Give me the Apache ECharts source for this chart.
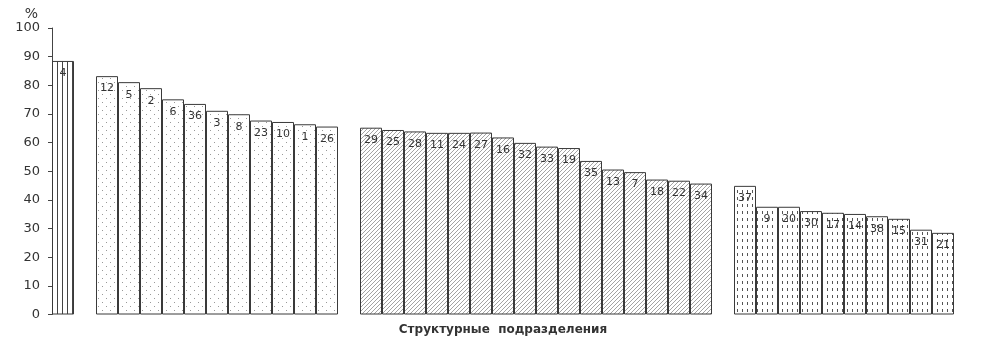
<!DOCTYPE html>
<html>
<head>
<meta charset="utf-8">
<script src="https://cdn.jsdelivr.net/npm/echarts@6/dist/echarts.min.js"></script>
<style>html,body{margin:0;padding:0;background:#fff}#c{width:988px;height:352px}</style>
</head>
<body>
<div id="c"></div>
<script>
// Data
var g1Labels = ['4'];
var g1Values = [88.5];
var g2Labels = ['12','5','2','6','36','3','8','23','10','1','26'];
var g2Values = [83.2, 81.1, 79.0, 75.1, 73.5, 71.1, 69.9, 67.7, 67.2, 66.4, 65.6];
var g3Labels = ['29','25','28','11','24','27','16','32','33','19','35','13','7','18','22','34'];
var g3Values = [65.2, 64.4, 63.9, 63.4, 63.4, 63.5, 61.8, 59.9, 58.6, 58.1, 53.6, 50.6, 49.7, 47.1, 46.7, 45.7];
var g4Labels = ['37','9','20','30','17','14','38','15','31','21'];
var g4Values = [44.9, 37.6, 37.6, 36.1, 35.5, 35.1, 34.3, 33.4, 29.6, 28.5];
var yTicks = [0,10,20,30,40,50,60,70,80,90,100];
var yName = '%';
var xName = 'Структурные  подразделения';

var groups = [[g1Labels,g1Values],[g2Labels,g2Values],[g3Labels,g3Values],[g4Labels,g4Values]];
var total = 0;
groups.forEach(function(g,i){ total += g[1].length + (i>0?1:0); });
var cats = [];
for (var k=0;k<total;k++) cats.push('s'+k);

function makePattern(w,h,draw){
  var c=document.createElement('canvas'); c.width=w; c.height=h;
  var ctx=c.getContext('2d'); ctx.fillStyle='#fff'; ctx.fillRect(0,0,w,h);
  draw(ctx); return {image:c, repeat:'repeat'};
}
var patterns = [
  makePattern(5,10,function(ctx){ ctx.fillStyle='#444'; ctx.fillRect(2,0,1,10); }),
  makePattern(8,8,function(ctx){ ctx.fillStyle='#999'; ctx.fillRect(2,2,1,1); ctx.fillRect(6,6,1,1); }),
  makePattern(4,4,function(ctx){ ctx.strokeStyle='#999'; ctx.lineWidth=0.9; ctx.beginPath();
     ctx.moveTo(-1,5); ctx.lineTo(5,-1); ctx.moveTo(-1,1); ctx.lineTo(1,-1); ctx.moveTo(3,5); ctx.lineTo(5,3); ctx.stroke(); }),
  makePattern(5,7,function(ctx){ ctx.fillStyle='#555'; ctx.fillRect(2,1,1,3); })
];

var series = [];
var offset = 0;
groups.forEach(function(g,i){
  if (i>0) offset += 1;
  var data = [];
  for (var k=0;k<total;k++) data.push(null);
  g[1].forEach(function(v,j){ data[offset+j] = v; });
  var start = offset;
  var labs = g[0];
  offset += g[1].length;
  series.push({
    type:'bar', stack:'all', data:data, barCategoryGap:'0%', barWidth:'100%',
    itemStyle:{color:patterns[i], borderColor:'#3a3a3a', borderWidth:1},
    label:{show:true, position:'insideTop', distance:7, color:'#333', fontSize:11,
      fontFamily:'DejaVu Sans', formatter:function(p){ return labs[p.dataIndex-start]; }},
    emphasis:{disabled:true}
  });
});

var chart = echarts.init(document.getElementById('c'), null, {renderer:'canvas'});
chart.setOption({
  animation:false,
  grid:{left:52, right:34, top:28, bottom:37.5, containLabel:false},
  xAxis:{type:'category', data:cats, axisLine:{show:false}, axisTick:{show:false}, axisLabel:{show:false},
    name:xName, nameLocation:'middle', nameGap:9,
    nameTextStyle:{fontFamily:'DejaVu Sans', fontWeight:'bold', fontSize:12, color:'#333'}},
  yAxis:{type:'value', min:0, max:100, interval:10,
    axisLine:{show:true, lineStyle:{color:'#444', width:1}},
    axisTick:{show:true, length:4, lineStyle:{color:'#444'}},
    splitLine:{show:false},
    axisLabel:{margin:12, color:'#333', fontSize:13, fontFamily:'DejaVu Sans',
      formatter:function(v){ return yTicks.indexOf(v)>=0 ? String(v) : ''; }},
    name:yName, nameLocation:'end', nameGap:6,
    nameTextStyle:{align:'right', padding:[0,14,0,0], color:'#333', fontSize:14, fontFamily:'DejaVu Sans'}},
  series:series
});
</script>
</body>
</html>
